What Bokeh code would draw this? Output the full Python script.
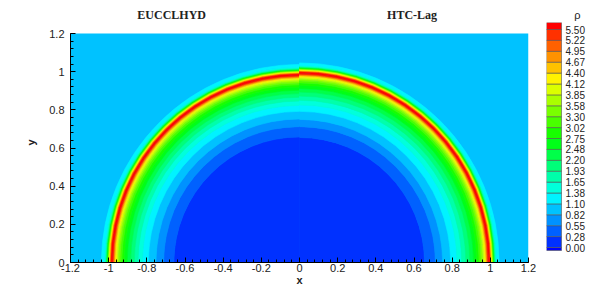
import numpy as np
from bokeh.plotting import figure
from bokeh.models import FixedTicker, ColumnDataSource, Range1d, LinearAxis
from bokeh.layouts import row
from bokeh.embed import file_html
from bokeh.resources import INLINE
from bokeh.core.properties import value

# ---------------- data ----------------
# contour band colours (band 0 = below 0.00, band 21 = above 5.50)
band_colors = ["#0000ff", "#0031ff", "#0061ff", "#0092ff", "#00c2ff", "#00f3ff",
               "#00ffdb", "#00ffaa", "#00ff79", "#00ff49", "#00ff18", "#18ff00",
               "#49ff00", "#79ff00", "#aaff00", "#dbff00", "#fff300", "#ffc200",
               "#ff9200", "#ff6100", "#ff3100", "#ff0000"]
levels = [0.0, 0.275, 0.55, 0.825, 1.1, 1.375, 1.65, 1.925, 2.2, 2.475, 2.75,
          3.025, 3.3, 3.575, 3.85, 4.125, 4.4, 4.675, 4.95, 5.225, 5.5]
level_labels = ["0.00", "0.28", "0.55", "0.82", "1.10", "1.38", "1.65", "1.93",
                "2.20", "2.48", "2.75", "3.02", "3.30", "3.58", "3.85", "4.12",
                "4.40", "4.67", "4.95", "5.22", "5.50"]
colorbar_title = "ρ"

# computational domain [xmin, xmax, ymin, ymax]
domain = [-1.2, 1.2, 0.0, 1.2]

# radial sequence of density bands (centre -> outside of shock)
band_seq = [1, 2, 3, 4, 5, 6, 7, 8, 9, 10, 11, 12, 13, 14, 15, 16, 17, 18, 19, 20, 21,
            20, 19, 18, 17, 16, 15, 14, 13, 12, 11, 10, 9, 8, 7, 6, 5]
# band edge radii, left half (EUCCLHYD)
left_edges = [0.0, 0.658, 0.712, 0.752, 0.792, 0.823, 0.846, 0.866, 0.885, 0.903,
              0.918, 0.931, 0.941, 0.949, 0.956, 0.962, 0.967, 0.971, 0.974, 0.977,
              0.980, 0.989, 0.992, 0.994, 0.996, 0.998, 1.000, 1.002, 1.004, 1.006,
              1.008, 1.010, 1.012, 1.014, 1.016, 1.019, 1.024, 1.038]
# band edge radii, right half (HTC-Lag)
right_edges = [0.0, 0.655, 0.712, 0.750, 0.792, 0.825, 0.850, 0.872, 0.893, 0.912,
               0.928, 0.941, 0.951, 0.959, 0.966, 0.972, 0.977, 0.981, 0.984, 0.987,
               0.990, 0.999, 1.002, 1.004, 1.006, 1.008, 1.010, 1.012, 1.014, 1.016,
               1.018, 1.020, 1.022, 1.024, 1.026, 1.029, 1.034, 1.046]

x_ticks = [-1.2, -1.0, -0.8, -0.6, -0.4, -0.2, 0.0, 0.2, 0.4, 0.6, 0.8, 1.0, 1.2]
x_tick_labels = ["-1.2", "-1", "-0.8", "-0.6", "-0.4", "-0.2", "0", "0.2", "0.4",
                 "0.6", "0.8", "1", "1.2"]
y_ticks = [0.0, 0.2, 0.4, 0.6, 0.8, 1.0, 1.2]
y_tick_labels = ["0", "0.2", "0.4", "0.6", "0.8", "1", "1.2"]

panel_titles = ["EUCCLHYD", "HTC-Lag"]
panel_title_x = [-0.67, 0.59]

# ---------------- main plot ----------------
FONT = "Liberation Sans"
PX = 458 / 2.4                     # pixels per data unit (equal aspect)
top_pad = 11 / PX                  # frame space above the domain (colour bar overhang)
p = figure(frame_width=458, frame_height=240,
           x_range=Range1d(domain[0], domain[1]),
           y_range=Range1d(domain[2], domain[3] + top_pad),
           min_border_left=70, min_border_top=22, min_border_right=8,
           min_border_bottom=24,
           output_backend="svg", toolbar_location=None,
           background_fill_color="white")
p.grid.visible = False
p.outline_line_color = None

p.quad(left=[domain[0]], right=[domain[1]], bottom=[domain[2]], top=[domain[3]],
       fill_color=band_colors[4], line_color=None)

for edges, a0, a1 in ((left_edges, np.pi / 2, np.pi), (right_edges, 0.0, np.pi / 2)):
    src = ColumnDataSource(dict(inner=edges[:-1], outer=edges[1:],
                                color=[band_colors[j] for j in band_seq]))
    p.annular_wedge(x=0, y=0, inner_radius="inner", outer_radius="outer",
                    start_angle=a0, end_angle=a1, fill_color="color",
                    line_color="color", line_width=0.6, source=src)

p.xaxis.ticker = FixedTicker(ticks=x_ticks,
                             minor_ticks=[round(v, 2) for v in np.arange(-1.2, 1.2001, 0.04)])
p.xaxis.major_label_overrides = dict(zip(x_ticks, x_tick_labels))
p.yaxis.ticker = FixedTicker(ticks=y_ticks,
                             minor_ticks=[round(v, 2) for v in np.arange(0, 1.2001, 0.04)])
p.yaxis.major_label_overrides = dict(zip(y_ticks, y_tick_labels))
p.yaxis.bounds = (domain[2], domain[3])

for ax in (p.xaxis[0], p.yaxis[0]):
    ax.axis_line_color = "black"
    ax.axis_line_width = 1
    ax.major_tick_in = 5
    ax.major_tick_out = 0
    ax.minor_tick_in = 3
    ax.minor_tick_out = 0
    ax.major_tick_line_color = "black"
    ax.minor_tick_line_color = "black"
    ax.major_label_text_font = FONT
    ax.major_label_text_font_size = "11px"
    ax.major_label_text_color = "#222222"
    ax.axis_label_text_font = FONT
    ax.axis_label_text_font_style = "bold"
    ax.axis_label_text_font_size = "11px"
    ax.axis_label_text_color = "#222222"

p.xaxis.major_label_standoff = 1
p.xaxis.axis_label = "x"
p.xaxis.axis_label_standoff = -1
p.yaxis.major_label_standoff = 6
p.yaxis.axis_label = "y"
p.yaxis.axis_label_standoff = 9

# panel titles, carried by a bare axis above the frame
title_axis = LinearAxis(ticker=FixedTicker(ticks=panel_title_x),
                        major_label_overrides=dict(zip(panel_title_x, panel_titles)),
                        axis_line_color=None, major_tick_line_color=None,
                        minor_tick_line_color=None, major_tick_in=0, major_tick_out=0,
                        minor_tick_in=0, minor_tick_out=0, major_label_standoff=1,
                        major_label_text_font="Liberation Serif",
                        major_label_text_font_style="bold",
                        major_label_text_font_size="12px",
                        major_label_text_color="#222222")
p.add_layout(title_axis, "above")

# ---------------- colour bar ----------------
CB_PX = 218 / 5.5                  # colour bar pixels per density unit
cb_low = -3 / CB_PX                # thin strip below 0.00
cb_high = 5.5 + 7 / CB_PX          # box above 5.50
cb_bottom_pad = 12 / CB_PX         # frame space below the bar
CB_W = 46                          # frame width in px; the bar itself is 15 px
cb = figure(frame_width=CB_W, frame_height=240,
            x_range=Range1d(0, CB_W / 15), y_range=Range1d(cb_low - cb_bottom_pad, cb_high),
            min_border_left=10, min_border_top=22, min_border_right=0,
            min_border_bottom=24, x_axis_location=None, y_axis_location=None,
            output_backend="svg", toolbar_location=None)
cb.grid.visible = False
cb.outline_line_color = None
cb.quad(left=0, right=1, bottom=[cb_low] + levels, top=levels + [cb_high],
        fill_color=band_colors, line_color="#555555", line_width=0.6)
cb.text(x=[19 / 15] * len(levels), y=levels, text=level_labels,
        text_font=value(FONT), text_font_size="10px", text_color="#222222",
        text_align="left", text_baseline="middle")
cb_title_axis = LinearAxis(ticker=FixedTicker(ticks=[31 / 15]),
                           major_label_overrides={31 / 15: colorbar_title},
                           axis_line_color=None, major_tick_line_color=None,
                           minor_tick_line_color=None, major_tick_in=0, major_tick_out=0,
                           minor_tick_in=0, minor_tick_out=0, major_label_standoff=2,
                           major_label_text_font=FONT,
                           major_label_text_font_size="11px",
                           major_label_text_color="#222222")
cb.add_layout(cb_title_axis, "above")

layout = row(p, cb)
open("out.html", "w").write(file_html(layout, INLINE))
